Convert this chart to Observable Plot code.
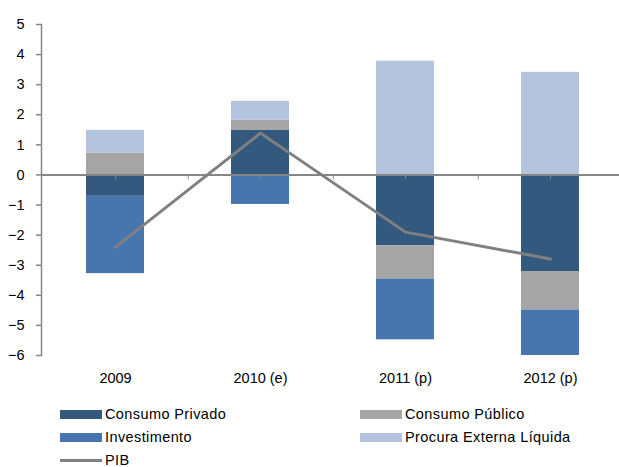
<!DOCTYPE html>
<html>
<head>
<meta charset="utf-8">
<script src="https://cdn.jsdelivr.net/npm/d3@7"></script>
<script src="https://cdn.jsdelivr.net/npm/@observablehq/plot@0.6"></script>
<style>
  body { margin: 0; background: #fff; font-family: "Liberation Sans", Arial, sans-serif; }
  #chart svg { display: block; }
  .legend { position: relative; height: 72px; font-size: 14.5px; color: #000; letter-spacing: 0.4px; }
  .item { position: absolute; display: flex; align-items: center; height: 20px; }
  .sw { width: 42px; height: 9px; margin-right: 3px; }
  .ln { width: 42px; height: 3px; margin-right: 3px; }
</style>
</head>
<body>
<div id="chart"></div>
<div class="legend" id="legend"></div>
<script>
const years = ["2009", "2010 (e)", "2011 (p)", "2012 (p)"];
const series = ["Consumo Privado", "Consumo Público", "Investimento", "Procura Externa Líquida"];
const colors = ["#34597f", "#a5a5a5", "#4776ae", "#b4c3de"];
const consumoPrivado = [-0.71, 1.48, -2.35, -3.21];
const consumoPublico = [0.73, 0.34, -1.11, -1.28];
const investimento = [-2.57, -0.98, -2.02, -1.61];
const procuraExterna = [0.75, 0.63, 3.78, 3.41];
const pib = [-2.4, 1.39, -1.9, -2.79];
const yTicks = [-6, -5, -4, -3, -2, -1, 0, 1, 2, 3, 4, 5];

const valueSets = [consumoPrivado, consumoPublico, investimento, procuraExterna];
const rows = [];
series.forEach((s, i) => years.forEach((y, j) => rows.push({year: y, series: s, value: valueSets[i][j]})));
const lineData = years.map((y, j) => ({year: y, value: pib[j]}));

const W = 619, H = 396, mL = 41, mR = -4;
const step = (W - mL - mR) / years.length;
const grey = "#868686";

const chart = Plot.plot({
  width: W, height: H,
  marginLeft: mL, marginRight: mR, marginTop: 24, marginBottom: 41,
  style: {fontFamily: "'Liberation Sans', Arial, sans-serif", fontSize: "14.5px", color: "#000", overflow: "visible"},
  x: {domain: years, paddingInner: 0.6, paddingOuter: 0.3, label: null},
  y: {domain: [-6, 5], ticks: yTicks, label: null},
  color: {domain: series, range: colors},
  marks: [
    Plot.barY(rows, Plot.stackY({x: "year", y: "value", fill: "series", order: series, clip: true})),
    Plot.ruleY([0], {stroke: grey, strokeWidth: 2}),
    Plot.ruleX(years, {x: d => d, y1: 0, y2: -0.16, stroke: grey, strokeWidth: 1}),
    Plot.ruleX(years.slice(0, -1), {x: d => d, y1: 0, y2: -0.16, dx: step / 2, stroke: grey, strokeWidth: 1}),
    Plot.lineY(lineData, {x: "year", y: "value", stroke: "#808080", strokeWidth: 3}),
    Plot.axisY({ticks: yTicks, tickSize: 5, tickPadding: 12, stroke: grey, strokeWidth: 1.5, fontSize: 14.5}),
    Plot.frame({anchor: "left", stroke: grey, strokeWidth: 1.5}),
    Plot.axisX({tickSize: 0, tickPadding: 17, fontSize: 14.5})
  ]
});
document.getElementById("chart").appendChild(chart);

const legendItems = [
  {label: series[0], type: "sw", color: colors[0], left: 60, top: 8},
  {label: series[1], type: "sw", color: colors[1], left: 360, top: 8},
  {label: series[2], type: "sw", color: colors[2], left: 60, top: 31},
  {label: series[3], type: "sw", color: colors[3], left: 360, top: 31},
  {label: "PIB", type: "ln", color: "#808080", left: 60, top: 54}
];
const lg = document.getElementById("legend");
legendItems.forEach(it => {
  const d = document.createElement("div");
  d.className = "item";
  d.style.left = it.left + "px";
  d.style.top = it.top + "px";
  const s = document.createElement("span");
  s.className = it.type;
  s.style.background = it.color;
  const t = document.createElement("span");
  t.textContent = it.label;
  d.appendChild(s); d.appendChild(t);
  lg.appendChild(d);
});
</script>
</body>
</html>
